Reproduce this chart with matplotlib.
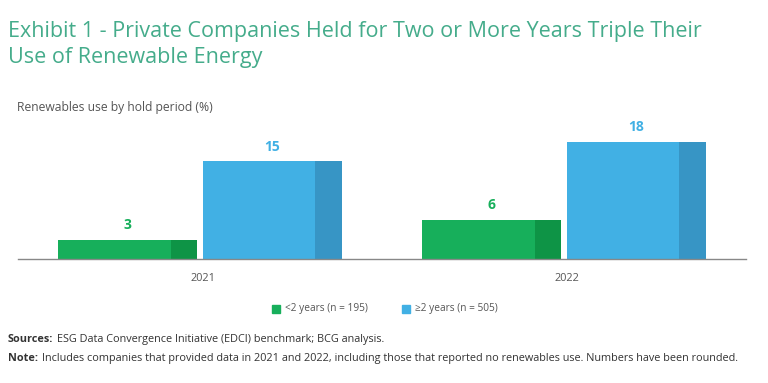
import matplotlib.pyplot as plt
import numpy as np

years = ["2021", "2022"]
under2 = [3, 6]
over2 = [15, 18]
labels = ["<2 years (n = 195)", "\u22652 years (n = 505)"]

green = "#17AF5B"
green_dk = "#0E9446"
blue = "#41B0E4"
blue_dk = "#3795C5"
teal = "#45AC8B"
grey = "#555555"

plt.rcParams['font.family'] = ['Open Sans', 'DejaVu Sans']

fig = plt.figure(figsize=(7.68, 3.83), dpi=100)
ax = fig.add_axes([18/768, (383-259)/383, (746-18)/768, (259-130)/383])

x = np.arange(len(years))
w = 0.382
off = 0.198
shade = 0.074

ax.bar(x - off, under2, w, color=green)
ax.bar(x - off + w/2 - shade/2, under2, shade, color=green_dk)
ax.bar(x + off, over2, w, color=blue)
ax.bar(x + off + w/2 - shade/2, over2, shade, color=blue_dk)

for xi, v in zip(x, under2):
    ax.text(xi - off, v + 1.2, str(v), ha="center", va="bottom", color=green,
            fontsize=10, fontweight="bold")
for xi, v in zip(x, over2):
    ax.text(xi + off, v + 1.2, str(v), ha="center", va="bottom", color=blue,
            fontsize=10, fontweight="bold")

ax.set_xlim(-0.5, 1.5)
ax.set_ylim(0, (259-130)/6.5)
for s in ["top", "right", "left"]:
    ax.spines[s].set_visible(False)
ax.spines["bottom"].set_color("#888888")
ax.spines["bottom"].set_linewidth(1)
ax.set_yticks([])
ax.set_xticks(x + 0.008)
ax.set_xticklabels(years, color=grey, fontsize=7.8)
ax.tick_params(axis="x", length=0, pad=10)

fig.text(8/768, 1 - 32/383, "Exhibit 1 - Private Companies Held for Two or More Years Triple Their",
         color=teal, fontsize=15.5, va="center")
fig.text(8/768, 1 - 57/383, "Use of Renewable Energy", color=teal, fontsize=15.5, va="center")
fig.text(17/768, 1 - 107/383, "Renewables use by hold period (%)", color=grey, fontsize=8.7, va="center")

# legend
for lx, c, t in [(272, green, labels[0]), (402, blue, labels[1])]:
    fig.patches.append(plt.Rectangle((lx/768, 1 - 313/383), 8/768, 8/383,
                                     transform=fig.transFigure, color=c))
    fig.text((lx + 13)/768, 1 - 309/383, t, color=grey, fontsize=7.3, va="center")

renderer = fig.canvas.get_renderer()
for yy, head, body in [(342, "Sources:", "ESG Data Convergence Initiative (EDCI) benchmark; BCG analysis."),
                       (361, "Note:", "Includes companies that provided data in 2021 and 2022, including those that reported no renewables use. Numbers have been rounded.")]:
    h = fig.text(8/768, 1 - yy/383, head, color="#333333", fontsize=7.8,
                 fontweight="bold", va="baseline")
    bb = h.get_window_extent(renderer)
    fig.text((bb.x1 + 4)/768, 1 - yy/383, body, color="#333333", fontsize=7.8, va="baseline")

fig.savefig("out.png", dpi=100)
